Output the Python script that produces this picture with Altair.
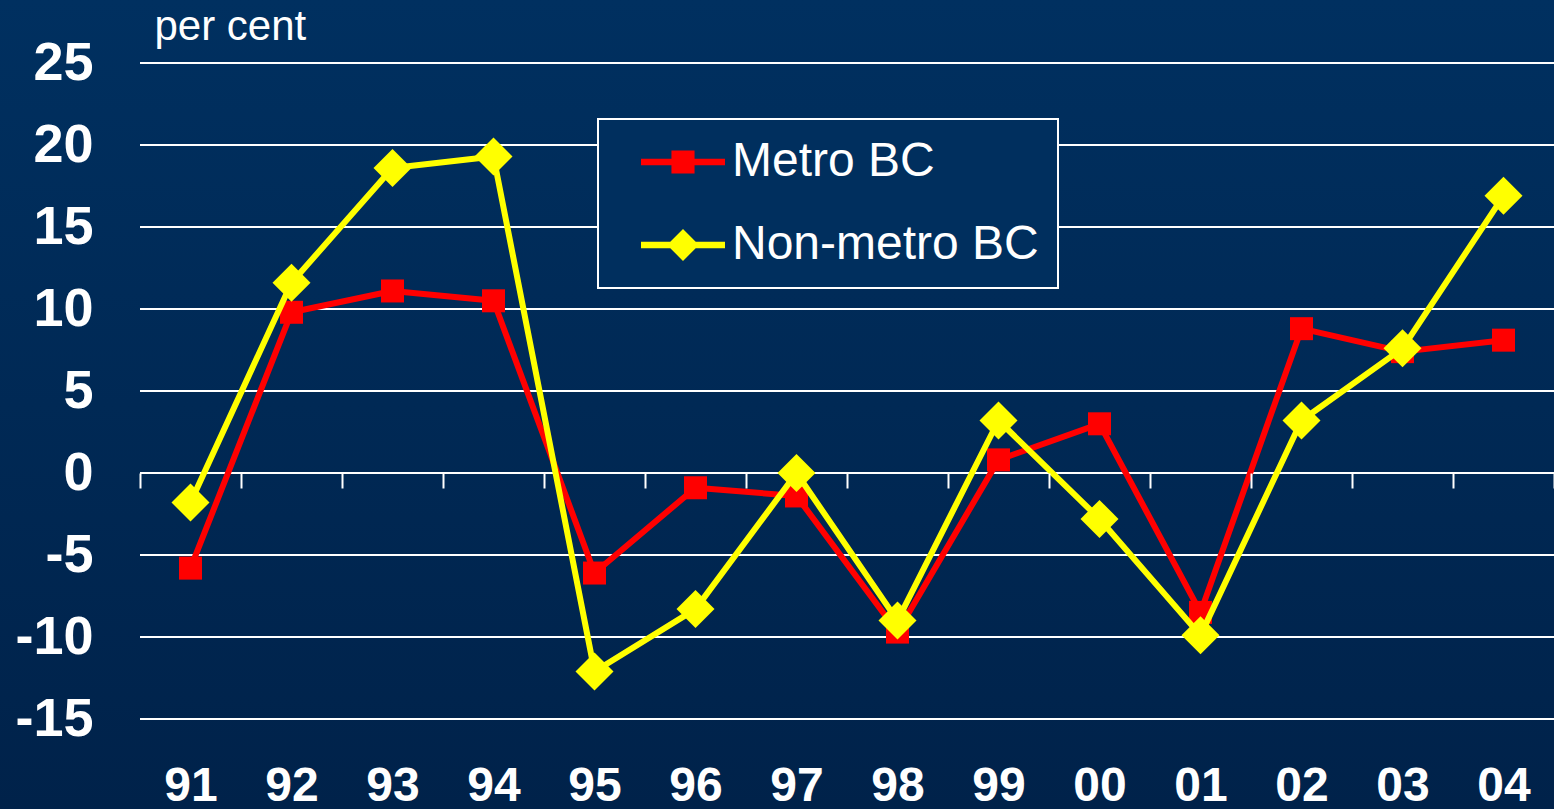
import altair as alt
import pandas as pd

# Annual change, per cent
YEARS = ["91", "92", "93", "94", "95", "96", "97", "98", "99", "00", "01", "02", "03", "04"]
SERIES = ["Metro BC", "Non-metro BC"]
METRO = [-5.8, 9.8, 11.1, 10.5, -6.1, -0.9, -1.4, -9.7, 0.8, 3.0, -8.5, 8.8, 7.4, 8.1]
NON_METRO = [-1.8, 11.6, 18.6, 19.3, -12.1, -8.3, 0.0, -9.0, 3.2, -2.8, -9.9, 3.2, 7.6, 16.9]
Y_TICKS = [-15, -10, -5, 0, 5, 10, 15, 20, 25]

COLORS = ["#ff0000", "#ffff00"]
FONT = "Liberation Sans"
BG_TOP, BG_BOTTOM = "#003060", "#00224a"

W, H = 1414, 656
PAD = {"left": 140, "top": 63, "right": 0, "bottom": 90}

df = pd.DataFrame(
    {
        "year": YEARS * 2,
        "series": [SERIES[0]] * len(YEARS) + [SERIES[1]] * len(YEARS),
        "value": METRO + NON_METRO,
    }
)
grid_df = pd.DataFrame({"v": Y_TICKS})

x_axis = alt.Axis(
    orient="bottom", offset=-246, domain=False, grid=False,
    ticks=True, tickBand="extent", tickSize=15, tickWidth=2, tickColor="white",
    labelFont=FONT, labelFontWeight="bold", labelFontSize=48, labelColor="white",
    labelAngle=0, labelBaseline="alphabetic", labelPadding=312, title=None, zindex=1,
)
y_axis = alt.Axis(
    values=Y_TICKS, domain=False, ticks=False, tickSize=0, grid=False,
    labelExpr="'' + datum.value",
    labelFont=FONT, labelFontWeight="bold", labelFontSize=54, labelColor="white",
    labelPadding=47,
    title="per cent", titleAngle=0, titleX=14, titleY=-24, titleAlign="left",
    titleBaseline="alphabetic", titleFont=FONT, titleFontSize=42,
    titleFontWeight="normal", titleColor="white", zindex=1,
)

X = alt.X("year:N", sort=YEARS, bandPosition=0.5,
          scale=alt.Scale(type="band", domain=YEARS, paddingInner=0, paddingOuter=0),
          axis=x_axis)
y_scale = alt.Scale(domain=[-15, 25], nice=False, zero=False)
Y = alt.Y("value:Q", scale=y_scale, axis=y_axis)

# background gradient across the whole canvas
bg = alt.Chart(pd.DataFrame({"a": [0]})).mark_rect(
    fill=alt.LinearGradient(
        gradient="linear",
        stops=[alt.GradientStop(color=BG_TOP, offset=0),
               alt.GradientStop(color=BG_BOTTOM, offset=1)],
        x1=0, x2=0, y1=0, y2=1,
    )
).encode(
    x=alt.value(-PAD["left"]), x2=alt.value(W + PAD["right"]),
    y=alt.value(-PAD["top"]), y2=alt.value(H + PAD["bottom"]),
)

grid = alt.Chart(grid_df).mark_rule(color="white", strokeWidth=2).encode(
    y=alt.Y("v:Q", scale=y_scale, axis=y_axis)
)

shapes = ["square", "diamond"]
sizes = [529, 1444]
series_layers = []
for name, color, shape, size in zip(SERIES, COLORS, shapes, sizes):
    base = alt.Chart(df).transform_filter(alt.datum.series == name)
    line = base.mark_line(color=color, strokeWidth=6, strokeJoin="round").encode(x=X, y=Y)
    pts = base.mark_point(filled=True, color=color, shape=shape, size=size, opacity=1).encode(x=X, y=Y)
    series_layers += [line, pts]

# legend symbols: line stub with the series marker in the middle
PATH_SQ = "M-2,-0.16H2V0.16H-2Z M-0.55,-0.55H0.55V0.55H-0.55Z"
PATH_DM = "M-2,-0.16H2V0.16H-2Z M0,-0.76L0.76,0L0,0.76L-0.76,0Z"
leg = alt.Legend(
    orient="none", legendX=458, legendY=56, title=None,
    fillColor="#002f5e", strokeColor="white", padding=19,
    symbolOffset=42, symbolSize=1764, symbolStrokeWidth=0, symbolOpacity=1,
    labelFont=FONT, labelFontSize=48, labelColor="white", labelOffset=25,
    labelLimit=800, rowPadding=35,
)
legend_layer = alt.Chart(df).transform_filter("false").mark_point(filled=True).encode(
    color=alt.Color("series:N", scale=alt.Scale(domain=SERIES, range=COLORS), legend=leg),
    shape=alt.Shape("series:N", scale=alt.Scale(domain=SERIES, range=[PATH_SQ, PATH_DM]), legend=leg),
)

chart = alt.layer(bg, grid, *series_layers, legend_layer).properties(
    width=W, height=H,
    autosize=alt.AutoSizeParams(type="none"),
    padding=PAD,
    background=BG_BOTTOM,
).configure_view(stroke=None).configure_legend(strokeWidth=2)

chart.save("out.html", embed_options={"renderer": "svg", "actions": False})
